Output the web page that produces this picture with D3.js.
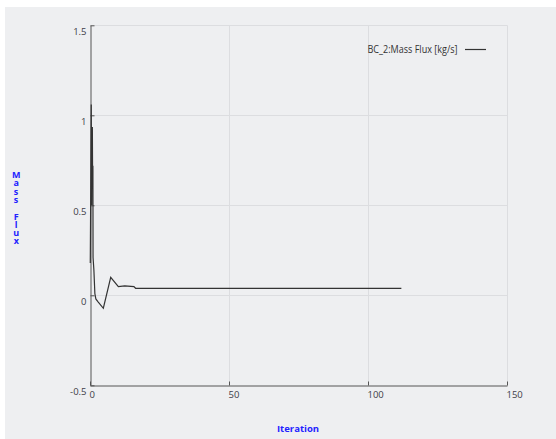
<!DOCTYPE html>
<html>
<head>
<meta charset="utf-8">
<script src="https://cdn.jsdelivr.net/npm/d3@7"></script>
<style>
  html, body { margin: 0; padding: 0; background: #ffffff; }
  svg { display: block; }
  text { font-family: "Open Sans", "Noto Sans", sans-serif; }
</style>
</head>
<body>
<script>
// Mass flux history at boundary BC_2 over the solver iterations
const iterations = [0.1, 0.25, 0.45, 0.6, 0.7, 0.85, 0.95, 1.05, 1.1, 1.4, 1.75, 2.1, 2.9, 4.8, 7.45, 10.2, 12.5, 15.8, 16.4, 36, 43, 44, 112];
const massFlux   = [0.18, 0.55, 1.06, 0.5, 0.88, 0.935, 0.6, 0.72, 0.21, 0.14, 0.01, -0.02, -0.036, -0.072, 0.10, 0.048, 0.052, 0.048, 0.039, 0.0385, 0.0385, 0.039, 0.039];

const xTicks = [0, 50, 100, 150];
const yTicks = [-0.5, 0, 0.5, 1, 1.5];
const seriesName = "BC_2:Mass Flux [kg/s]";
const xTitle = "Iteration";
const yTitle = "Mass Flux";

const W = 556, H = 439;
const svg = d3.select("body").append("svg").attr("width", W).attr("height", H);

// panel background
svg.append("rect").attr("x", 5).attr("y", 7).attr("width", W - 5).attr("height", H - 7)
  .attr("fill", "#eeeff1");

const x = d3.scaleLinear().domain([0, 150]).range([90, 507]);
const y = d3.scaleLinear().domain([-0.5, 1.5]).range([385.3, 25.3]);

// grid
const grid = svg.append("g").attr("stroke", "#dcdde0").attr("stroke-width", 1);
grid.selectAll("line.v").data(xTicks.filter(d => d > 0)).join("line")
  .attr("x1", d => Math.round(x(d)) + 0.5).attr("x2", d => Math.round(x(d)) + 0.5)
  .attr("y1", y(1.5)).attr("y2", y(-0.5));
grid.selectAll("line.h").data(yTicks.filter(d => d > -0.5)).join("line")
  .attr("y1", d => Math.round(y(d)) + 0.5).attr("y2", d => Math.round(y(d)) + 0.5)
  .attr("x1", x(0)).attr("x2", x(150));

// axes
const fmt = d => String(d);
const xAxis = d3.axisBottom(x).tickValues(xTicks).tickFormat(fmt).tickSizeInner(-4).tickSizeOuter(0).tickPadding(6);
const yAxis = d3.axisLeft(y).tickValues(yTicks).tickFormat(fmt).tickSizeInner(-4).tickSizeOuter(0).tickPadding(5);

const gx = svg.append("g").attr("transform", `translate(0,${Math.round(y(-0.5)) + 0.5})`).call(xAxis);
const gy = svg.append("g").attr("transform", `translate(${Math.round(x(0)) + 0.5},0)`).call(yAxis);

[gx, gy].forEach(g => {
  g.select(".domain").attr("stroke", "#555");
  g.selectAll(".tick line").attr("stroke", "#555");
  g.selectAll(".tick text").attr("fill", "#404048").attr("font-size", 9.5)
    .style("font-family", "'Open Sans', sans-serif");
});
gx.selectAll(".tick text").attr("text-anchor", "start").attr("dx", -1);
gy.selectAll(".tick text").attr("dy", "1em").attr("x", -4);

// series line
const line = d3.line().x((d, i) => x(iterations[i])).y(d => y(d));
svg.append("path").datum(massFlux)
  .attr("d", line)
  .attr("fill", "none")
  .attr("stroke", "#333")
  .attr("stroke-width", 1.2);

// legend
svg.append("text").attr("x", 367.5).attr("y", 53)
  .attr("font-size", 10).attr("fill", "#333")
  .attr("textLength", 90).attr("lengthAdjust", "spacingAndGlyphs")
  .text(seriesName);
svg.append("line").attr("x1", 465).attr("x2", 486).attr("y1", 49.5).attr("y2", 49.5)
  .attr("stroke", "#333").attr("stroke-width", 1.2);

// axis titles
svg.append("text").attr("x", 298).attr("y", 431.5)
  .attr("text-anchor", "middle").attr("font-size", 9.5).attr("font-weight", "bold")
  .attr("fill", "#2323ff").text(xTitle);

// vertical title with upright stacked letters
svg.append("text")
  .attr("x", 16).attr("y", 168)
  .attr("font-size", 9).attr("font-weight", "bold").attr("fill", "#2323ff")
  .style("writing-mode", "vertical-rl")
  .style("text-orientation", "upright")
  .style("letter-spacing", "-4.7px")
  .text(yTitle);
</script>
</body>
</html>
